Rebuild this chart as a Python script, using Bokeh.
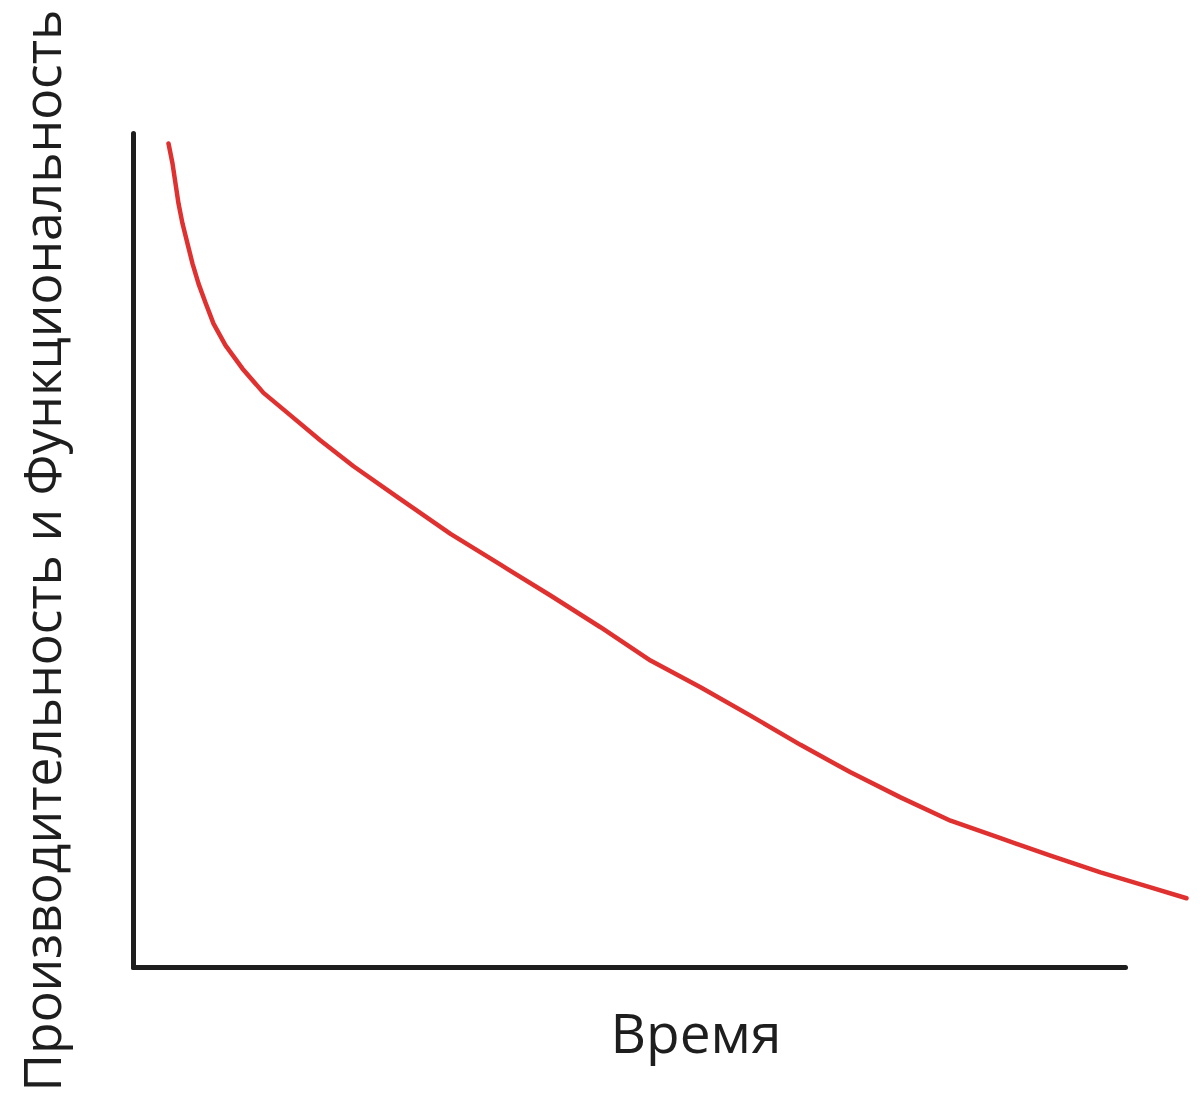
from bokeh.plotting import figure
from bokeh.models import Range1d, FixedTicker, Title
from bokeh.embed import file_html
from bokeh.resources import INLINE

# ---- data (abstract units) ----
time = [0.35, 0.39, 0.42, 0.45, 0.49, 0.54, 0.59, 0.65, 0.72, 0.80, 0.92,
        1.09, 1.30, 1.57, 1.87, 2.20, 2.64, 3.17, 3.67, 4.17, 4.67, 5.17,
        5.67, 6.17, 6.67, 7.17, 7.67, 8.17, 8.67, 9.17, 9.67, 10.17, 10.53]
performance = [9.88, 9.64, 9.40, 9.16, 8.92, 8.68, 8.44, 8.20, 7.97, 7.72, 7.46,
               7.18, 6.89, 6.62, 6.32, 6.01, 5.64, 5.20, 4.83, 4.46, 4.08, 3.68,
               3.36, 3.02, 2.67, 2.34, 2.04, 1.76, 1.55, 1.34, 1.14, 0.96, 0.83]
x_axis_extent = (0, 9.92)
y_axis_extent = (0, 10.0)
x_label = "Время"
y_label = "Производительность и Функциональность"

INK = "#1e1e1e"
RED = "#e03131"
FONT = "Open Sans"

p = figure(width=1192, height=1097, output_backend="svg", toolbar_location=None,
           x_range=Range1d(0, 10.59), y_range=Range1d(0, 10.0),
           min_border_left=133, min_border_right=0,
           min_border_top=133, min_border_bottom=130)
p.outline_line_color = None
p.grid.visible = False
p.background_fill_color = "white"
p.border_fill_color = "white"

for ax, bounds in ((p.xaxis, x_axis_extent), (p.yaxis, y_axis_extent)):
    ax.bounds = bounds
    ax.ticker = FixedTicker(ticks=[])
    ax.major_tick_line_color = None
    ax.minor_tick_line_color = None
    ax.major_label_text_font_size = "0px"
    ax.major_label_standoff = 0
    ax.major_tick_out = 0
    ax.major_tick_in = 0
    ax.axis_line_color = INK
    ax.axis_line_width = 5
    ax.axis_line_cap = "round"

p.yaxis.axis_label = y_label
p.yaxis.axis_label_text_font = FONT
p.yaxis.axis_label_text_font_size = "51.5px"
p.yaxis.axis_label_text_font_style = "normal"
p.yaxis.axis_label_text_color = INK
p.yaxis.axis_label_standoff = 58

x_title = Title(text=x_label, align="left", offset=477, standoff=49,
                text_font=FONT, text_font_size="55px", text_font_style="normal",
                text_color=INK)
p.add_layout(x_title, "below")

p.line(time, performance, line_color=RED, line_width=4.5,
       line_cap="round", line_join="round")

open("out.html", "w").write(file_html(p, INLINE))
